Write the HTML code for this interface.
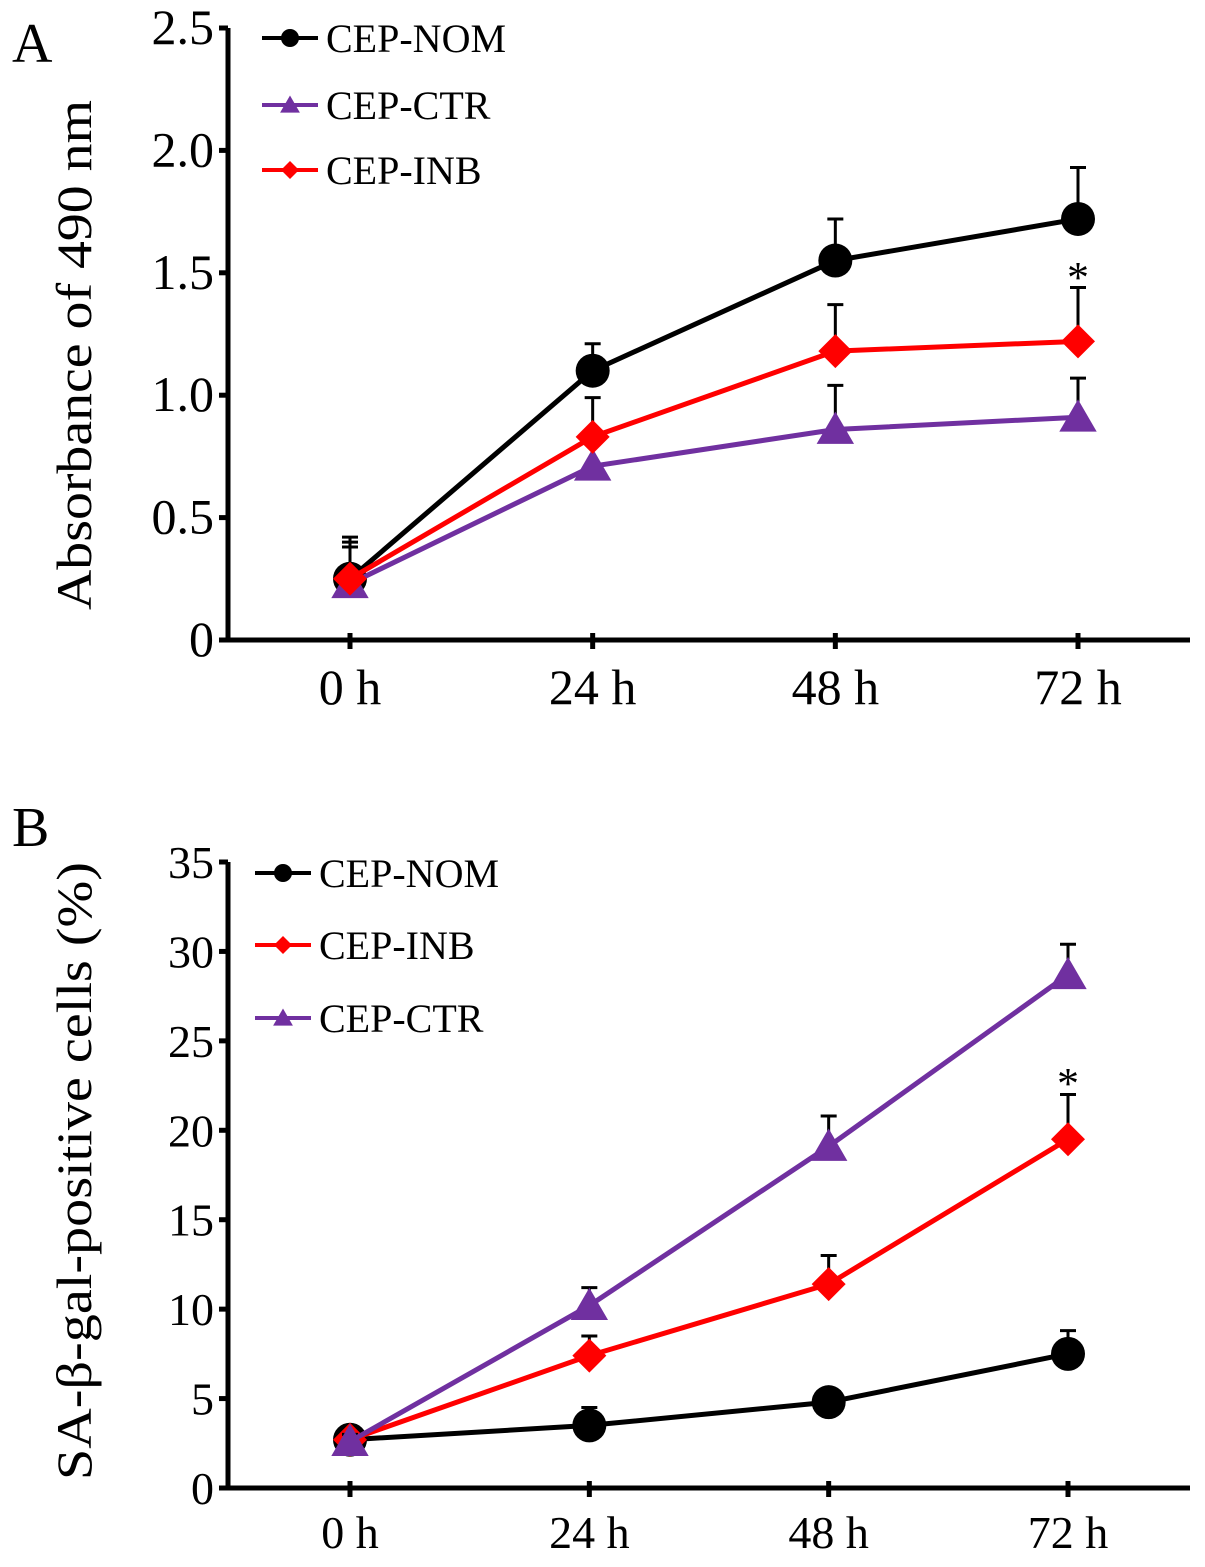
<!DOCTYPE html>
<html><head><meta charset="utf-8"><style>
html,body{margin:0;padding:0;background:#fff}
svg{display:block;font-family:"Liberation Serif",serif}
</style></head><body>
<svg id="chart" width="1205" height="1567" viewBox="0 0 1205 1567">
<g id="pa"></g>
<g id="pb"></g>
</svg>
<script>
const categories = ["0 h","24 h","48 h","72 h"];
// Panel A
const aNomVals = [0.25,1.10,1.55,1.72];
const aNomErr  = [0.17,0.11,0.17,0.21];
const aCtrVals = [0.23,0.71,0.86,0.91];
const aCtrErr  = [0.15,0.09,0.18,0.16];
const aInbVals = [0.25,0.83,1.18,1.22];
const aInbErr  = [0.15,0.16,0.19,0.22];
const aTicks = [0,0.5,1.0,1.5,2.0,2.5];
const aTickLabels = ["0","0.5","1.0","1.5","2.0","2.5"];
// Panel B
const bNomVals = [2.7,3.5,4.8,7.5];
const bNomErr  = [0.4,1.0,0.7,1.3];
const bInbVals = [2.7,7.4,11.4,19.5];
const bInbErr  = [0.4,1.1,1.6,2.5];
const bCtrVals = [2.6,10.2,19.1,28.7];
const bCtrErr  = [0.4,1.0,1.7,1.7];
const bTicks = [0,5,10,15,20,25,30,35];
const bTickLabels = ["0","5","10","15","20","25","30","35"];

const NS="http://www.w3.org/2000/svg";
function mk(parent,tag,attrs,text){const e=document.createElementNS(NS,tag);for(const k in attrs)e.setAttribute(k,attrs[k]);if(text!==undefined)e.textContent=text;parent.appendChild(e);return e;}

function drawPanel(g,cfg){
  const ys=v=>cfg.y0-(v-cfg.vmin)/(cfg.vmax-cfg.vmin)*(cfg.y0-cfg.y1);
  const xs=i=>cfg.xPos[0]+i*(cfg.xPos[1]-cfg.xPos[0])/(categories.length-1);
  let e;
  e=mk(g,"text",{x:cfg.letterX,y:cfg.letterY,"font-size":56});e.textContent=cfg.letter;
  
  
  e=mk(g,"line",{x1:cfg.axX,y1:cfg.y1,x2:cfg.axX,y2:cfg.y0+2,stroke:"#000","stroke-width":5});
  
  
  e=mk(g,"line",{x1:cfg.axX-8,y1:cfg.y0,x2:cfg.axEnd,y2:cfg.y0,stroke:"#000","stroke-width":5});
  
  
  cfg.ticks.forEach((t,i)=>{
    const y=ys(t);
    e=mk(g,"line",{x1:cfg.axX-9,y1:y,x2:cfg.axX,y2:y,stroke:"#000","stroke-width":5});
    
    
    e=mk(g,"text",{x:cfg.axX-14,y:y+16,"font-size":cfg.tickFs,"text-anchor":"end"},cfg.tickLabels[i]);
    
    
  });
  categories.forEach((c,i)=>{
    const x=xs(i);
    e=mk(g,"line",{x1:x,y1:cfg.y0-7,x2:x,y2:cfg.y0+9,stroke:"#000","stroke-width":5});
    
    
    e=mk(g,"text",{x:x,y:cfg.y0+cfg.xLabDy,"font-size":cfg.xFs,"text-anchor":"middle"},c);
    
    
  });
  e=mk(g,"text",{x:0,y:0,"font-size":50,"text-anchor":"middle",textLength:cfg.titleLen,lengthAdjust:"spacingAndGlyphs",transform:`translate(${cfg.titleX},${cfg.titleC}) rotate(-90)`},cfg.title);
  
  
  cfg.series.forEach(s=>{
    const sg=mk(g,"g",{});
    
    
    s.vals.forEach((v,i)=>{
      const x=xs(i),top=ys(v+s.err[i]);
      e=mk(sg,"path",{d:`M${x},${ys(v)}V${top}M${x-8},${top}H${x+8}`,stroke:"#000","stroke-width":3,fill:"none"});
      
      
    });
    e=mk(sg,"polyline",{points:s.vals.map((v,i)=>xs(i)+","+ys(v)).join(" "),fill:"none",stroke:s.color,"stroke-width":5});
    
    
    s.vals.forEach((v,i)=>{
      e=marker(sg,s.shape,xs(i),ys(v),s.color,17);
      
      
    });
  });
  e=mk(g,"text",{x:xs(3),y:cfg.starY,"font-size":44,"text-anchor":"middle"},"*");
  
  
  cfg.legend.forEach((l,i)=>{
    const y=cfg.legY[i];
    const lg=mk(g,"g",{});
    
    
    mk(lg,"line",{x1:cfg.legX,y1:y,x2:cfg.legX+56,y2:y,stroke:l.color,"stroke-width":4});
    marker(lg,l.shape,cfg.legX+28,y,l.color,9);
    mk(lg,"text",{x:cfg.legX+64,y:y+14,"font-size":40},l.label);
  });
}
function marker(p,shape,x,y,c,r){
  if(shape==="circle")return mk(p,"circle",{cx:x,cy:y,r:r,fill:c});
  if(shape==="tri")return mk(p,"path",{d:`M${x},${y-r*1.05}L${x+r*1.1},${y+r*0.85}L${x-r*1.1},${y+r*0.85}Z`,fill:c});
  return mk(p,"path",{d:`M${x},${y-r}L${x+r},${y}L${x},${y+r}L${x-r},${y}Z`,fill:c});
}
drawPanel(document.getElementById("pa"),{
  letter:"A",letterX:12,letterY:62,axX:228,axEnd:1190,y0:640,y1:28,vmin:0,vmax:2.5,
  xPos:[350,1078],ticks:aTicks,tickLabels:aTickLabels,tickFs:50,xFs:50,xLabDy:64,
  titleX:91,titleC:355,titleLen:510,title:"Absorbance of 490 nm",
  series:[
    {key:"cep-nom",vals:aNomVals,err:aNomErr,color:"#000",shape:"circle"},
    {key:"cep-ctr",vals:aCtrVals,err:aCtrErr,color:"#7030a0",shape:"tri"},
    {key:"cep-inb",vals:aInbVals,err:aInbErr,color:"#ff0000",shape:"diamond"}],
  starY:292,legX:262,legY:[38,105,170],
  legend:[{label:"CEP-NOM",color:"#000",shape:"circle"},{label:"CEP-CTR",color:"#7030a0",shape:"tri"},{label:"CEP-INB",color:"#ff0000",shape:"diamond"}]
});
drawPanel(document.getElementById("pb"),{
  letter:"B",letterX:12,letterY:846,axX:228,axEnd:1190,y0:1488,y1:862,vmin:0,vmax:35,
  xPos:[350,1068],ticks:bTicks,tickLabels:bTickLabels,tickFs:46,xFs:46,xLabDy:60,
  titleX:91,titleC:1171,titleLen:618,title:"SA-β-gal-positive cells (%)",
  series:[
    {key:"cep-nom",vals:bNomVals,err:bNomErr,color:"#000",shape:"circle"},
    {key:"cep-inb",vals:bInbVals,err:bInbErr,color:"#ff0000",shape:"diamond"},
    {key:"cep-ctr",vals:bCtrVals,err:bCtrErr,color:"#7030a0",shape:"tri"}],
  starY:1098,legX:255,legY:[873,945,1018],
  legend:[{label:"CEP-NOM",color:"#000",shape:"circle"},{label:"CEP-INB",color:"#ff0000",shape:"diamond"},{label:"CEP-CTR",color:"#7030a0",shape:"tri"}]
});
</script>
</body></html>
